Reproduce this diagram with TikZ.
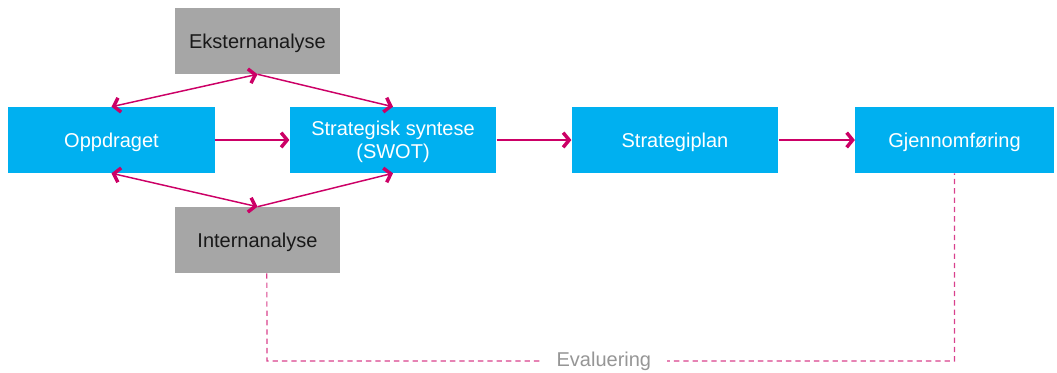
\documentclass[tikz,border=0pt]{standalone}
\usepackage{fontspec}
\setmainfont{Liberation Sans}
\usetikzlibrary{arrows.meta,positioning}
\definecolor{boxblue}{RGB}{0,176,240}
\definecolor{boxgray}{RGB}{166,166,166}
\definecolor{linkred}{RGB}{204,0,102}
\definecolor{evalgray}{RGB}{150,150,150}
\tikzset{
    stepbox/.style={fill=boxblue, text=white, minimum width=155pt, minimum height=49.5pt,
        align=center, inner sep=2pt, text depth=0pt, font=\fontsize{15}{17.5}\selectfont},
    anabox/.style={fill=boxgray, text=black!90, minimum width=124pt, minimum height=49.5pt,
        text depth=0pt, font=\fontsize{15}{17.5}\selectfont},
    barb/.tip={Straight Barb[length=4.5pt,width=11pt,line width=2.6pt 0]},
    link/.style={draw=linkred, line width=1.1pt, -barb},
    duallink/.style={draw=linkred, line width=1.1pt, barb-barb},
    evalline/.style={draw=linkred!75, line width=0.9pt, dash pattern=on 4pt off 3pt}
}
\begin{document}
\begin{tikzpicture}[x=0.75pt,y=-0.75pt]
    \useasboundingbox (0,0) rectangle (1057,372);
    \node[stepbox] (oppdrag) at (111.5,140) {Oppdraget};
    \node[stepbox] (syntese) at (393,140) {Strategisk syntese\\(SWOT)};
    \node[stepbox] (plan) at (675,140) {Strategiplan};
    \node[stepbox, minimum width=149pt] (gjennom) at (954.5,140) {Gjennomføring};
    \node[anabox] (ekstern) at (257.5,41) {Eksternanalyse};
    \node[anabox] (intern) at (257.5,240) {Internanalyse};
    % piler
    \draw[link] (oppdrag) -- (syntese);
    \draw[link] (syntese) -- (plan);
    \draw[link] (plan) -- (gjennom);
    \draw[duallink] (ekstern.south) -- (oppdrag.north);
    \draw[link] (ekstern.south) -- (syntese.north);
    \draw[duallink] (intern.north) -- (oppdrag.south);
    \draw[link] (intern.north) -- (syntese.south);
    % evaluering
    \coordinate (evalstart) at ([xshift=7pt]intern.south);
    \coordinate (evalleft) at (267,361);
    \coordinate (evalright) at (954.5,361);
    \draw[evalline] (evalstart) -- (evalleft) -- node[fill=white, text=evalgray, inner xsep=12pt,
        font=\fontsize{15}{17.5}\selectfont, pos=0.49] (evaltext) {Evaluering} (evalright) -- (gjennom.south);
\end{tikzpicture}
\end{document}
